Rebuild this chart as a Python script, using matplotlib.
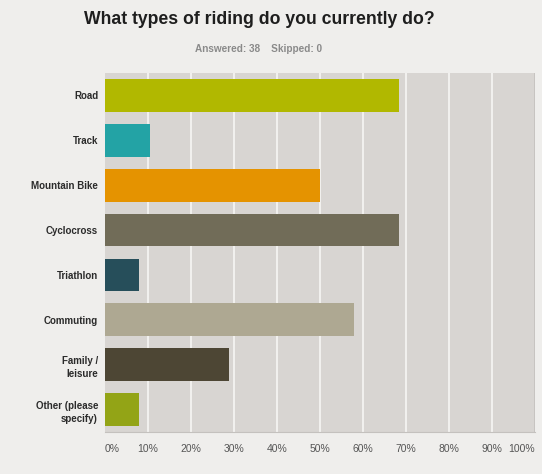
import matplotlib
matplotlib.use("Agg")
import matplotlib.pyplot as plt
import numpy as np

categories = ["Road", "Track", "Mountain Bike", "Cyclocross", "Triathlon",
              "Commuting", "Family /\nleisure", "Other (please\nspecify)"]
values = [68.42, 10.53, 50.00, 68.42, 7.89, 57.89, 28.95, 7.89]
colors = ["#b1b800", "#23a3a5", "#e59300", "#716c58", "#264e5a",
          "#aea892", "#4d4634", "#93a416"]
tick_values = [0, 10, 20, 30, 40, 50, 60, 70, 80, 90, 100]
tick_labels = [f"{t}%" for t in tick_values]

plt.rcParams['font.family'] = ['Liberation Sans', 'DejaVu Sans']

fig = plt.figure(figsize=(5.42, 4.74), dpi=100)
fig.patch.set_facecolor("#efeeec")
ax = fig.add_axes([105/542, 1-432/474, 430/542, 359/474])
ax.set_facecolor("#d8d5d2")

y = np.arange(len(categories))
ax.barh(y, values, height=0.73, color=colors, zorder=3)
ax.set_xlim(0, 100)
ax.set_ylim(len(categories)-0.5, -0.5)

for t in tick_values[1:-1]:
    ax.axvline(t, color="#f2f1ef", lw=1.4, zorder=1)
ax.axvline(100, color="#c4c1be", lw=1.2, zorder=1)

for s in ax.spines.values():
    s.set_visible(False)
ax.spines['bottom'].set_visible(True)
ax.spines['bottom'].set_color("#c4c1be")

ax.set_yticks(y)
ax.set_yticklabels(categories, fontsize=7, fontweight="bold", color="#2b2b2b",
                   ha="right", multialignment="right", linespacing=1.45)
ax.tick_params(axis="y", length=0, pad=5)

ax.set_xticks(tick_values)
ax.set_xticklabels(tick_labels, fontsize=7.5, color="#555555")
ax.tick_params(axis="x", length=0, pad=9)
xl = ax.get_xticklabels()
xl[0].set_ha("left")
xl[-1].set_ha("right")

fig.text(259/542, 1-20/474, "What types of riding do you currently do?",
         ha="center", va="center", fontsize=12.7, fontweight="bold", color="#1e1e1e")
fig.text(259/542, 1-49/474, "Answered: 38    Skipped: 0",
         ha="center", va="center", fontsize=7.2, fontweight="bold", color="#8a8a8a")

fig.savefig("out.png", dpi=100, facecolor=fig.get_facecolor())
